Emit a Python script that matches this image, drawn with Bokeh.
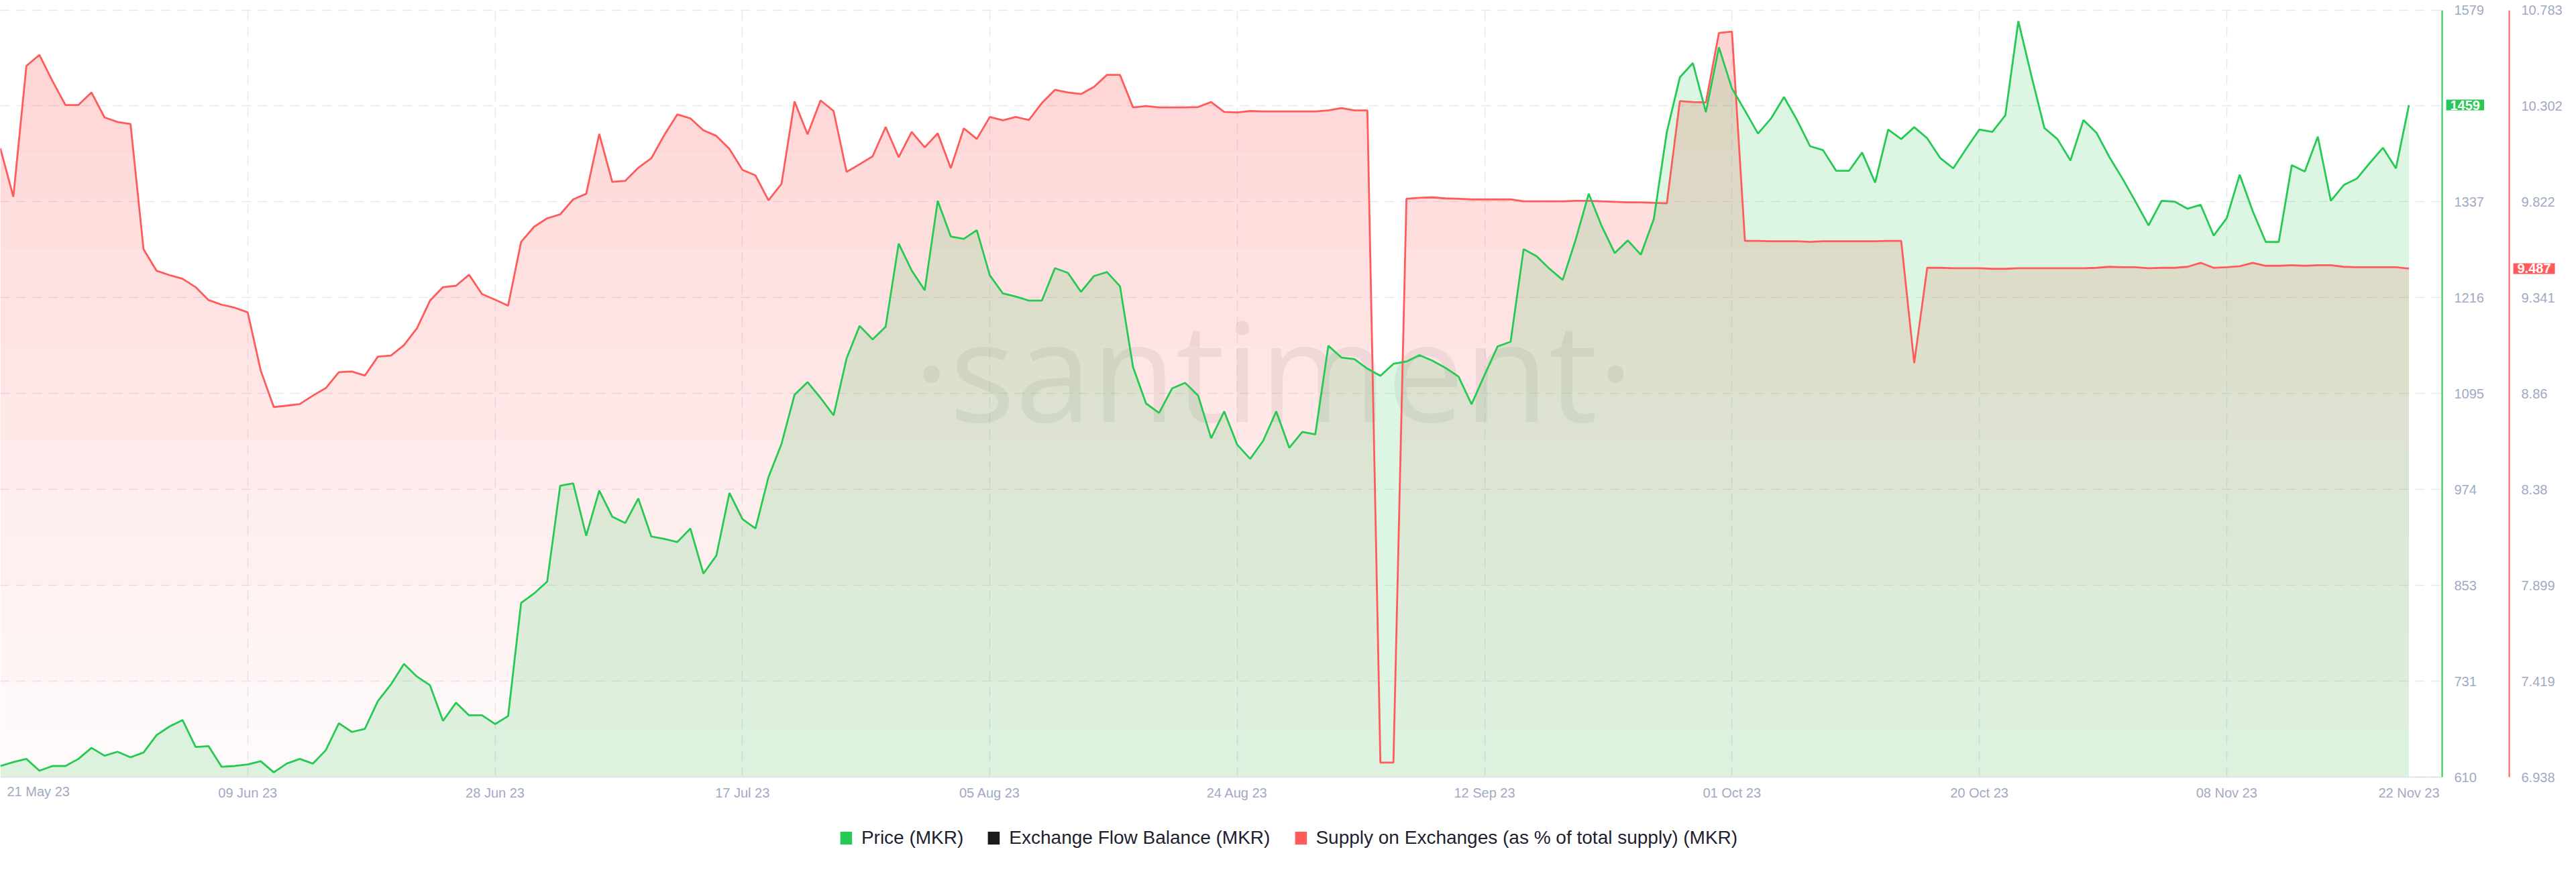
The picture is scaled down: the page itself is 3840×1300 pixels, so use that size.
import numpy as np
import pandas as pd
from bokeh.plotting import figure
from bokeh.models import (Range1d, LinearAxis, FixedTicker, DatetimeTickFormatter,
                          Label, Legend, LegendItem, Grid)
from bokeh.embed import file_html
from bokeh.resources import INLINE

# ---------------- data ----------------
start_date = "2023-05-21"

price = [
    624, 629, 633, 618, 624, 624, 633, 647, 637, 642,
    635, 641, 663, 674, 682, 648, 649, 623, 624, 626,
    630, 616, 627, 633, 627, 644, 678, 667, 671, 706,
    727, 753, 737, 726, 681, 704, 688, 688, 677, 687,
    830, 842, 857, 978, 981, 915, 972, 939, 931, 962,
    914, 911, 907, 924, 867, 890, 969, 936, 924, 989,
    1031, 1093, 1109, 1089, 1067, 1139, 1180, 1163, 1179, 1284,
    1250, 1225, 1338, 1293, 1290, 1301, 1244, 1221, 1217, 1212,
    1212, 1253, 1247, 1223, 1243, 1248, 1230, 1128, 1082, 1070,
    1101, 1108, 1092, 1038, 1072, 1030, 1012, 1035, 1072, 1026,
    1046, 1043, 1155, 1140, 1138, 1126, 1117, 1132, 1135, 1143,
    1136, 1127, 1116, 1081, 1118, 1154, 1160, 1277, 1268, 1252,
    1238, 1289, 1347, 1306, 1272, 1288, 1270, 1315, 1425, 1494,
    1512, 1450, 1532, 1480, 1452, 1423, 1442, 1469, 1440, 1407,
    1402, 1376, 1376, 1399, 1361, 1428, 1416, 1431, 1417, 1392,
    1379, 1404, 1428, 1425, 1446, 1565, 1496, 1430, 1416, 1389,
    1440, 1424, 1393, 1366, 1337, 1307, 1338, 1337, 1328, 1333,
    1294, 1316, 1371, 1325, 1286, 1286, 1383, 1375, 1419, 1338,
    1358, 1366, 1386, 1405, 1379, 1459,
]

supply = [
    10.090, 9.847, 10.503, 10.558, 10.428, 10.307, 10.307, 10.370, 10.245, 10.222,
    10.212, 9.584, 9.476, 9.454, 9.436, 9.394, 9.329, 9.306, 9.291, 9.268,
    8.976, 8.793, 8.800, 8.808, 8.850, 8.888, 8.968, 8.971, 8.951, 9.046,
    9.051, 9.103, 9.188, 9.326, 9.394, 9.401, 9.456, 9.359, 9.331, 9.301,
    9.621, 9.697, 9.739, 9.759, 9.834, 9.862, 10.162, 9.922, 9.927, 9.992,
    10.040, 10.157, 10.260, 10.240, 10.180, 10.152, 10.087, 9.982, 9.954, 9.829,
    9.912, 10.325, 10.160, 10.330, 10.277, 9.972, 10.010, 10.050, 10.197, 10.045,
    10.172, 10.095, 10.165, 9.990, 10.190, 10.137, 10.247, 10.230, 10.247, 10.232,
    10.317, 10.383, 10.370, 10.362, 10.398, 10.458, 10.458, 10.295, 10.302, 10.295,
    10.295, 10.295, 10.297, 10.322, 10.272, 10.270, 10.277, 10.275, 10.275, 10.275,
    10.275, 10.275, 10.280, 10.292, 10.280, 10.280, 7.011, 7.011, 9.837, 9.842,
    9.844, 9.839, 9.837, 9.834, 9.834, 9.834, 9.834, 9.824, 9.824, 9.824,
    9.824, 9.827, 9.827, 9.824, 9.822, 9.819, 9.819, 9.817, 9.814, 10.327,
    10.322, 10.320, 10.668, 10.675, 9.626, 9.626, 9.624, 9.624, 9.624, 9.621,
    9.624, 9.624, 9.624, 9.624, 9.624, 9.626, 9.626, 9.013, 9.491, 9.491,
    9.489, 9.489, 9.489, 9.486, 9.486, 9.489, 9.489, 9.489, 9.489, 9.489,
    9.489, 9.491, 9.496, 9.494, 9.494, 9.489, 9.491, 9.491, 9.496, 9.516,
    9.491, 9.494, 9.499, 9.516, 9.501, 9.501, 9.504, 9.501, 9.504, 9.504,
    9.496, 9.494, 9.494, 9.494, 9.494, 9.487,
]

x_tick_dates = ["2023-06-09", "2023-06-28", "2023-07-17", "2023-08-05", "2023-08-24",
                "2023-09-12", "2023-10-01", "2023-10-20", "2023-11-08", "2023-11-22"]
x_grid_dates = ["2023-05-21", "2023-06-09", "2023-06-28", "2023-07-17", "2023-08-05",
                "2023-08-24", "2023-09-12", "2023-10-01", "2023-10-20", "2023-11-08"]
first_label = "21 May 23"

price_tick_labels = ["610", "731", "853", "974", "1095", "1216", "1337", "1458", "1579"]
supply_tick_labels = ["6.938", "7.419", "7.899", "8.38", "8.86", "9.341", "9.822", "10.302", "10.783"]

legend_labels = ["Price (MKR)", "Exchange Flow Balance (MKR)",
                 "Supply on Exchanges (as % of total supply) (MKR)"]

# ---------------- layout / style ----------------
GREEN = "#26C953"
RED = "#FF5B5B"
BLACK = "#1A1A1A"
TICK_COLOR = "#A0AAC3"
GRID_COLOR = "#E6E8F1"
FONT = "Liberation Sans"

W, H = 3840, 1300
TOP_PX = 14.5         # pixel row of the top tick line
AXIS_Y = 1158.0       # pixel row of the bottom tick line
PX_PER_DAY = 19.408
AXIS1_PX = 3640       # price axis line
AXIS2_PX = 3740       # supply axis line
LEGEND_CENTER_Y = 1249

DAY_MS = 86400000.0

def ms(d):
    return pd.Timestamp(d).timestamp() * 1000.0

dates = pd.date_range(start_date, periods=len(price), freq="D")
xs = np.array([ms(d) for d in dates])
price_arr = np.array(price, dtype=float)
supply_arr = np.array(supply, dtype=float)

p_lo, p_hi = float(price_tick_labels[0]), float(price_tick_labels[-1])
s_lo, s_hi = float(supply_tick_labels[0]), float(supply_tick_labels[-1])
price_tick_vals = [float(v) for v in np.linspace(p_lo, p_hi, len(price_tick_labels))]
supply_tick_vals = [float(v) for v in np.linspace(s_lo, s_hi, len(supply_tick_labels))]

# the frame covers the whole canvas; ranges extend past the tick span
span_px = AXIS_Y - TOP_PX
up = TOP_PX / span_px
down = (H - AXIS_Y) / span_px
p_start, p_end = p_lo - (p_hi - p_lo) * down, p_hi + (p_hi - p_lo) * up
s_start, s_end = s_lo - (s_hi - s_lo) * down, s_hi + (s_hi - s_lo) * up

x_start = ms(start_date)
x_end = x_start + (W / PX_PER_DAY) * DAY_MS
x_axis1 = x_start + (AXIS1_PX / PX_PER_DAY) * DAY_MS
x_axis2 = x_start + (AXIS2_PX / PX_PER_DAY) * DAY_MS

p = figure(width=W, height=H, x_axis_type="datetime", y_axis_location="right",
           output_backend="svg", toolbar_location=None,
           x_range=Range1d(x_start, x_end), y_range=Range1d(p_start, p_end),
           min_border=0, min_border_left=0, min_border_right=0, min_border_top=0,
           min_border_bottom=0,
           background_fill_color="white", border_fill_color="white",
           outline_line_color=None)
p.extra_y_ranges = {"supply": Range1d(s_start, s_end)}

# grids
p.xgrid.ticker = FixedTicker(ticks=[ms(d) for d in x_grid_dates])
p.ygrid.ticker = FixedTicker(ticks=price_tick_vals)
for g in (p.xgrid[0], p.ygrid[0]):
    g.grid_line_color = GRID_COLOR
    g.grid_line_width = 1.5
    g.grid_line_dash = "14 10"

has_cross = "cross_bounds" in Grid.properties()
if has_cross:
    p.xgrid[0].cross_bounds = (p_lo, p_hi)
    p.ygrid[0].cross_bounds = (x_start, x_axis1)

# red (supply) area with a vertical fade, built in horizontal bands;
# band edges are inserted exactly where the straight segments cross them
n_bands = 16
edges = np.linspace(s_lo, s_hi, n_bands + 1)
cuts = [xs]
for e in edges:
    d = supply_arr - e
    idx = np.where(d[:-1] * d[1:] < 0)[0]
    t = d[idx] / (d[idx] - d[idx + 1])
    cuts.append(xs[idx] + t * (xs[idx + 1] - xs[idx]))
xr_ = np.unique(np.concatenate(cuts))
sr_ = np.interp(xr_, xs, supply_arr)
for k in range(n_bands):
    lo, hi = float(edges[k]), float(edges[k + 1])
    frac = (k + 0.5) / n_bands
    p.varea(x=xr_, y1=lo, y2=np.clip(sr_, lo, hi), y_range_name="supply",
            fill_color=RED, fill_alpha=0.02 + 0.25 * frac)

# green (price) area
p.varea(x=dates, y1=p_lo, y2=price_arr, fill_color=GREEN, fill_alpha=0.16)

if not has_cross:
    p.quad(left=[x_axis1], right=[x_end], bottom=[p_start], top=[p_end],
           fill_color="white", line_color=None)
    p.quad(left=[x_start], right=[x_end], bottom=[p_start], top=[p_lo],
           fill_color="white", line_color=None)

# watermark
xr = x_end - x_start
p.add_layout(Label(x=x_start + (1898 / W) * xr, y=p_lo + 0.533 * (p_hi - p_lo),
                   text="·santiment·", text_align="center", text_baseline="alphabetic",
                   text_font="Open Sans", text_font_size="205px",
                   text_color="#999999", text_alpha=0.16, level="underlay"))

# lines
p.line(dates, supply_arr, y_range_name="supply", line_color=RED, line_width=2.8)
p.line(dates, price_arr, line_color=GREEN, line_width=2.8)

# x axis (fixed on the bottom tick line)
xa = p.xaxis[0]
xa.fixed_location = p_lo
xa.bounds = (x_start, x_axis1)
xa.ticker = FixedTicker(ticks=[ms(d) for d in x_tick_dates])
fmt = "%d %b %y"
xa.formatter = DatetimeTickFormatter(milliseconds=fmt, seconds=fmt, minsec=fmt, minutes=fmt,
                                     hourmin=fmt, hours=fmt, days=fmt, months=fmt, years=fmt)
xa.axis_line_color = "#E2E5EE"
xa.axis_line_width = 2
xa.major_tick_line_color = None
xa.minor_tick_line_color = None
xa.major_label_text_color = TICK_COLOR
xa.major_label_text_font = FONT
xa.major_label_text_font_size = "20px"
xa.major_label_standoff = 6

p.add_layout(Label(x=x_start, y=p_lo, x_offset=10, y_offset=-10, text=first_label,
                   text_align="left", text_baseline="top", text_color=TICK_COLOR,
                   text_font=FONT, text_font_size="20px"))

# price axis
ya = p.yaxis[0]
ya.fixed_location = x_axis1
ya.bounds = (p_lo, p_hi)
shown = [v for v, lab in zip(price_tick_vals, price_tick_labels) if lab != price_tick_labels[-2]]
ya.ticker = FixedTicker(ticks=shown)
ya.major_label_overrides = {v: lab for v, lab in zip(price_tick_vals, price_tick_labels)}
ya.axis_line_color = GREEN
ya.axis_line_width = 2
ya.major_tick_line_color = None
ya.minor_tick_line_color = None
ya.major_label_text_color = TICK_COLOR
ya.major_label_text_font = FONT
ya.major_label_text_font_size = "20px"
ya.major_label_standoff = 12

# supply axis
sa = LinearAxis(y_range_name="supply", ticker=FixedTicker(ticks=supply_tick_vals))
sa.fixed_location = x_axis2
sa.bounds = (s_lo, s_hi)
sa.major_label_overrides = {v: lab for v, lab in zip(supply_tick_vals, supply_tick_labels)}
sa.axis_line_color = RED
sa.axis_line_width = 2
sa.major_tick_line_color = None
sa.minor_tick_line_color = None
sa.major_label_text_color = TICK_COLOR
sa.major_label_text_font = FONT
sa.major_label_text_font_size = "20px"
sa.major_label_standoff = 12
p.add_layout(sa, "right")

# last-value badges
p.add_layout(Label(x=x_axis1, y=price[-1], x_offset=6, text=str(price[-1]),
                   text_align="left", text_baseline="middle", text_color="white",
                   text_font=FONT, text_font_size="20px", text_font_style="bold",
                   background_fill_color=GREEN, padding=dict(x=6, y=1)))
p.add_layout(Label(x=x_axis2, y=supply[-1], y_range_name="supply", x_offset=6,
                   text=f"{supply[-1]:.3f}", text_align="left", text_baseline="middle",
                   text_color="white", text_font=FONT, text_font_size="20px",
                   text_font_style="bold", background_fill_color=RED,
                   padding=dict(x=6, y=1)))

# legend (inside the frame, bottom centre)
leg_r = []
for c in (GREEN, BLACK, RED):
    leg_r.append(p.quad(left=[np.nan], right=[np.nan], top=[np.nan], bottom=[np.nan],
                        fill_color=c, line_color=None))
legend = Legend(items=[LegendItem(label=lab, renderers=[r]) for lab, r in zip(legend_labels, leg_r)],
                orientation="horizontal", location="bottom_center",
                glyph_width=22, glyph_height=24, label_standoff=12, spacing=34,
                padding=0, margin=int(H - LEGEND_CENTER_Y - 16), border_line_alpha=0,
                background_fill_alpha=0,
                label_text_font=FONT, label_text_font_size="28px",
                label_text_color="#1D2130")
p.add_layout(legend, "center")

open("out.html", "w").write(file_html(p, INLINE))
